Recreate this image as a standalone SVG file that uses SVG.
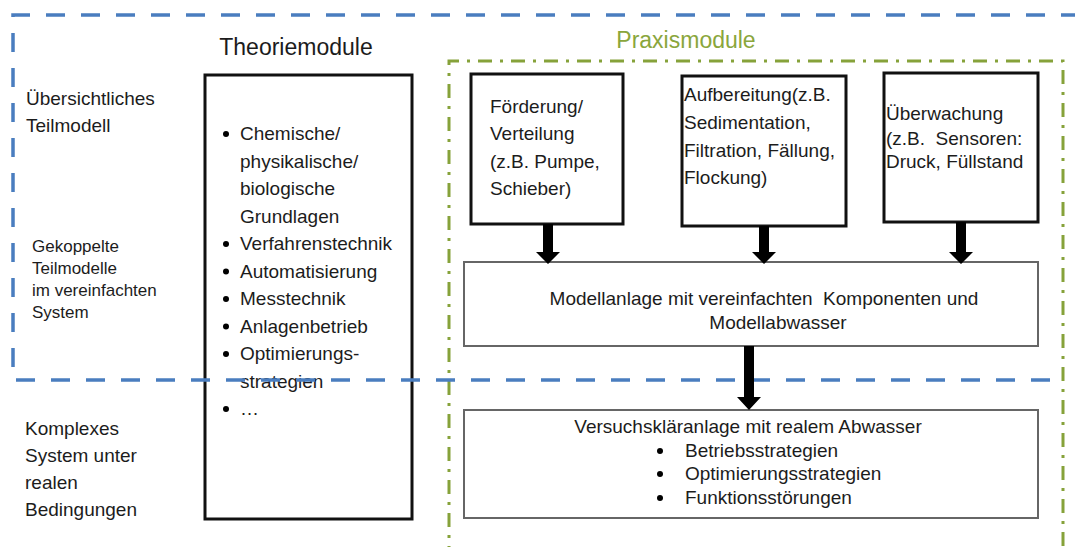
<svg xmlns="http://www.w3.org/2000/svg" width="1075" height="547" viewBox="0 0 1075 547">
<style>
text{font-family:"Liberation Sans",Arial,sans-serif;fill:#1c1c1c;font-size:19px}
.h{font-size:23px}
.g{fill:#8aa63c}
.s{font-size:17px}
.box{fill:none;stroke:#111;stroke-width:3}
.mbox{fill:#fff;stroke:#666;stroke-width:2}
.blue{fill:none;stroke:#4a7dbf;stroke-width:3.5;stroke-dasharray:19 16}
.green{fill:none;stroke:#86a23a;stroke-width:3;stroke-dasharray:14 8 3 8}
.arr{fill:#000}
.dot{fill:#000}
</style>
<rect width="1075" height="547" fill="#fff"/>
<g id="praxis-frame">
<path class="green" d="M449,560 V61 H1063 V560"/>
<text class="h g" x="686" y="48" text-anchor="middle">Praxismodule</text>
</g>
<g id="theorie">
<text class="h" x="296" y="55" text-anchor="middle">Theoriemodule</text>
<rect class="box" x="205" y="75" width="207" height="444"/>
<g>
<circle class="dot" cx="226" cy="134" r="3"/>
<text x="240" y="140">Chemische/</text>
<text x="240" y="167.5">physikalische/</text>
<text x="240" y="195">biologische</text>
<text x="240" y="222.5">Grundlagen</text>
<circle class="dot" cx="226" cy="244" r="3"/>
<text x="240" y="250">Verfahrenstechnik</text>
<circle class="dot" cx="226" cy="271.5" r="3"/>
<text x="240" y="277.5">Automatisierung</text>
<circle class="dot" cx="226" cy="299" r="3"/>
<text x="240" y="305">Messtechnik</text>
<circle class="dot" cx="226" cy="326.5" r="3"/>
<text x="240" y="332.5">Anlagenbetrieb</text>
<circle class="dot" cx="226" cy="354" r="3"/>
<text x="240" y="360">Optimierungs-</text>
<text x="240" y="387.5">strategien</text>
<circle class="dot" cx="226" cy="409" r="3"/>
<text x="240" y="415">…</text>
</g>
</g>
<g id="levels">
<text x="26" y="105">Übersichtliches</text>
<text x="26" y="132">Teilmodell</text>
<text class="s" x="32" y="252">Gekoppelte</text>
<text class="s" x="32" y="274">Teilmodelle</text>
<text class="s" x="32" y="296">im vereinfachten</text>
<text class="s" x="32" y="318">System</text>
<text x="25" y="435">Komplexes</text>
<text x="25" y="462">System unter</text>
<text x="25" y="489">realen</text>
<text x="25" y="516">Bedingungen</text>
</g>
<g id="scope-frame">
<path class="blue" d="M1080,15 H13 V380 H1062"/>
</g>
<g id="foerderung">
<rect class="box" x="471" y="74" width="152" height="150"/>
<text x="490" y="113">Förderung/</text>
<text x="490" y="140">Verteilung</text>
<text x="490" y="168">(z.B. Pumpe,</text>
<text x="490" y="195">Schieber)</text>
</g>
<g id="aufbereitung">
<rect class="box" x="682" y="76" width="164" height="150"/>
<text x="684" y="101">Aufbereitung(z.B.</text>
<text x="684" y="129">Sedimentation,</text>
<text x="684" y="157">Filtration, Fällung,</text>
<text x="684" y="184">Flockung)</text>
</g>
<g id="ueberwachung">
<rect class="box" x="884" y="73" width="154" height="149"/>
<text x="886" y="120">Überwachung</text>
<text x="886" y="145" xml:space="preserve">(z.B.  Sensoren:</text>
<text x="886" y="168">Druck, Füllstand</text>
</g>
<g id="modellanlage">
<rect class="mbox" x="464" y="262" width="574" height="84"/>
<text x="764" y="305" text-anchor="middle" xml:space="preserve">Modellanlage mit vereinfachten  Komponenten und</text>
<text x="778" y="329" text-anchor="middle">Modellabwasser</text>
</g>
<g id="versuchsklaeranlage">
<rect class="mbox" x="464" y="410" width="574" height="108"/>
<text x="748" y="433" text-anchor="middle">Versuchskläranlage mit realem Abwasser</text>
<circle class="dot" cx="660" cy="451" r="3"/>
<text x="685" y="457">Betriebsstrategien</text>
<circle class="dot" cx="660" cy="474" r="3"/>
<text x="685" y="480">Optimierungsstrategien</text>
<circle class="dot" cx="660" cy="498" r="3"/>
<text x="685" y="504">Funktionsstörungen</text>
</g>
<g id="connectors">
<polygon class="arr" points="543,224 553,224 553,252 560,252 548,264 536,252 543,252"/>
<polygon class="arr" points="759,226 769,226 769,252 776,252 764,264 752,252 759,252"/>
<polygon class="arr" points="956,222 966,222 966,252 973,252 961,264 949,252 956,252"/>
<polygon class="arr" points="744,346 754,346 754,397 761,397 749,410 737,397 744,397"/>
</g>
</svg>
